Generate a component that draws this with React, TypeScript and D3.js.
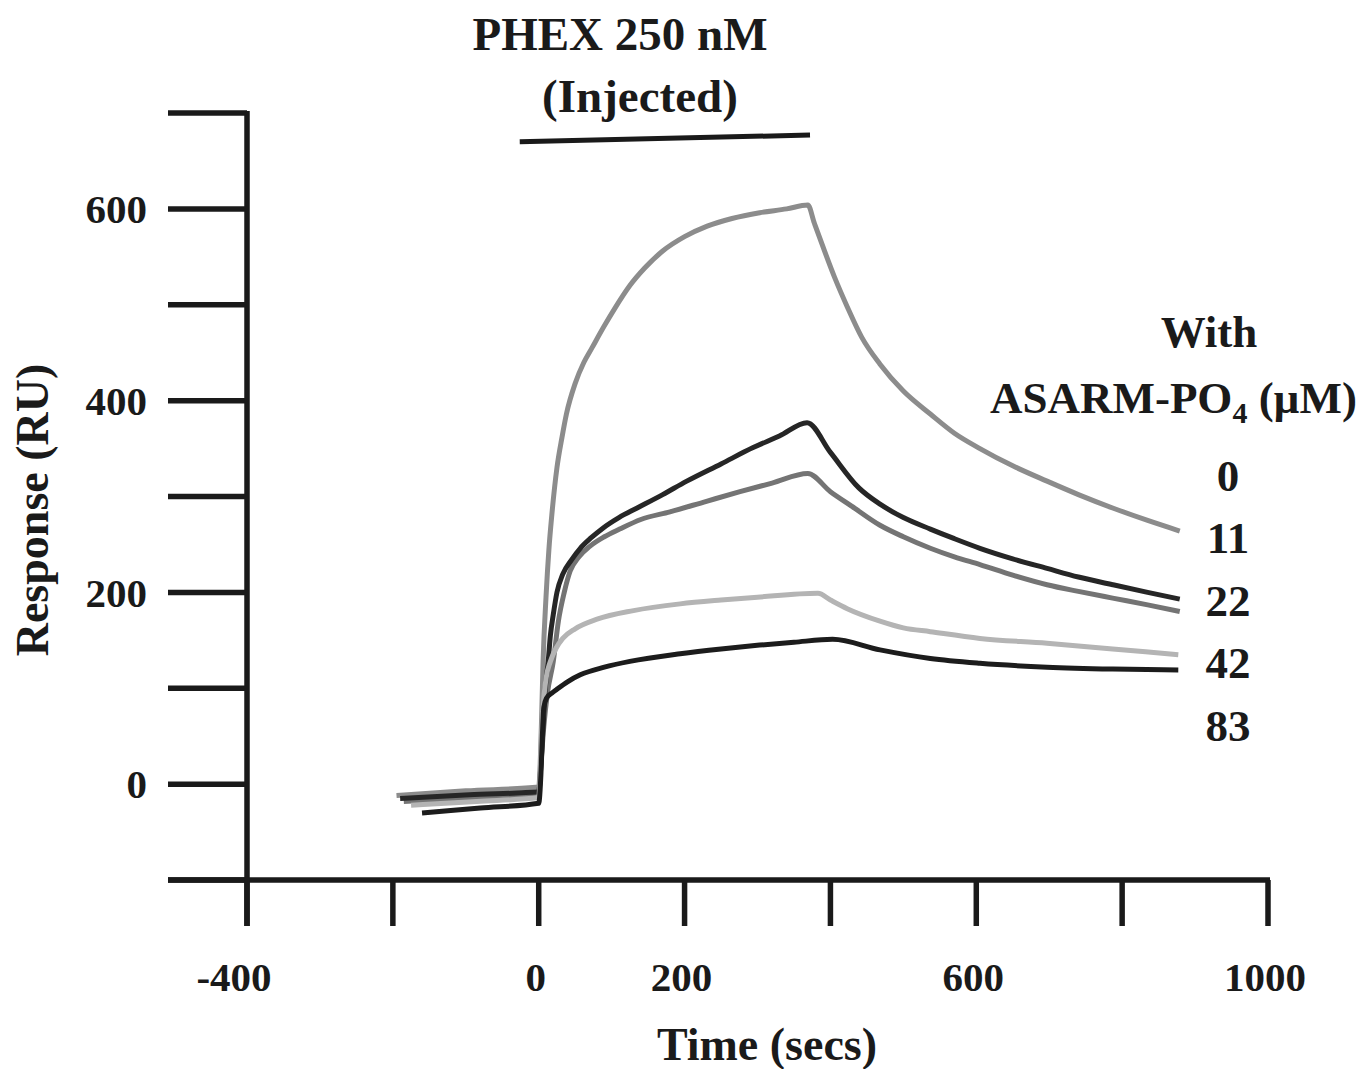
import * as d3 from "d3";

const WIDTH = 1361;
const HEIGHT = 1069;

// sensorgram traces: time (s) and response (RU)
const conc0T = [-195, -100, 0, 2, 4, 6, 10, 14, 18, 25, 32, 38, 50, 62, 73, 90, 105, 125, 145, 170, 200, 231, 265, 303, 340, 369,
  378, 390, 406, 423, 443, 468, 500, 537, 570, 605, 650, 697, 740, 787, 835, 879];
const conc0V = [-12, -7, -3, 20, 70, 128, 195, 245, 281, 330, 362, 386, 418, 440, 455, 478, 497, 520, 538, 556, 571, 582, 590, 596, 600, 604,
  585, 560, 528, 498, 466, 438, 410, 386, 366, 350, 332, 316, 302, 288, 275, 264];

const conc11T = [-190, -95, 0, 3, 6, 9, 13, 16, 20, 25, 33, 45, 57, 72, 88, 110, 135, 170, 203, 250, 294, 330, 368,
  400, 439, 468, 500, 537, 570, 605, 650, 697, 740, 787, 835, 879];
const conc11V = [-15, -11, -8, 20, 60, 100, 128, 155, 177, 200, 219, 234, 246, 257, 267, 278, 288, 302, 316, 334, 351, 363, 377,
  346, 309, 292, 278, 266, 256, 246, 235, 225, 216, 208, 200, 193];

const conc22T = [-185, -90, 0, 3, 7, 12, 20, 27, 35, 43, 55, 70, 90, 111, 140, 180, 230, 276, 320, 369,
  400, 429, 468, 500, 537, 570, 605, 650, 697, 740, 787, 835, 879];
const conc22V = [-18, -14, -10, 20, 60, 95, 128, 170, 200, 222, 237, 248, 258, 266, 276, 284, 295, 305, 314, 324,
  305, 290, 270, 258, 246, 237, 229, 218, 208, 201, 194, 187, 180];

const conc42T = [-175, -85, 0, 3, 6, 10, 16, 24, 33, 50, 80, 130, 194, 250, 300, 383,
  400, 423, 468, 500, 537, 605, 697, 787, 877];
const conc42V = [-22, -18, -14, 30, 80, 110, 128, 142, 152, 162, 172, 181, 188, 192, 195, 199,
  192, 183, 170, 163, 159, 152, 147, 141, 135];

const conc83T = [-160, -80, 0, 3, 5, 7, 11, 18, 25, 40, 57, 90, 125, 194, 250, 303, 350, 403,
  468, 537, 605, 697, 787, 877];
const conc83V = [-30, -25, -20, 10, 50, 80, 90, 95, 99, 107, 114, 122, 128, 136, 141, 145, 148, 151,
  140, 131, 126, 122, 120, 119];

const seriesNames = ["0", "11", "22", "42", "83"];
const seriesColors = ["#8c8c8c", "#262626", "#747474", "#b4b4b4", "#1c1c1c"];
const seriesT = [conc0T, conc11T, conc22T, conc42T, conc83T];
const seriesV = [conc0V, conc11V, conc22V, conc42V, conc83V];
const drawOrder = [0, 2, 1, 3, 4];

const xTicks = [-400, -200, 0, 200, 400, 600, 800, 1000];
const xTickLabels = ["-400", "", "0", "200", "", "600", "", "1000"];
const yTicks = [-100, 0, 100, 200, 300, 400, 500, 600, 700];
const yTickLabels = ["", "0", "", "200", "", "400", "", "600", ""];

// injection bar: start / end time and level
const injectT = [-26, 372];
const injectV = [670, 677];

const FONT = "'Liberation Serif', 'Times New Roman', serif";

export default function App() {
  const x = d3.scaleLinear().domain([-400, 1000]).range([247, 1268]);
  const y = d3.scaleLinear().domain([-100, 700]).range([880, 113]);

  const line = d3
    .line<[number, number]>()
    .x((d) => x(d[0]))
    .y((d) => y(d[1]))
    .curve(d3.curveMonotoneX);

  const axisColor = "#1a1a1a";
  const yTickLeft = 168;
  const xTickLen = 46;

  return (
    <svg
      width={WIDTH}
      height={HEIGHT}
      style={{ position: "absolute", left: 0, top: 0, background: "#fff" }}
      fontFamily={FONT}
      fontWeight="bold"
    >
      {/* curves */}
      {drawOrder.map((i) => {
        const pts = seriesT[i].map((t, k) => [t, seriesV[i][k]] as [number, number]);
        return (
          <path
            key={seriesNames[i]}
            d={line(pts) ?? ""}
            fill="none"
            stroke={seriesColors[i]}
            strokeWidth={5}
            strokeLinejoin="round"
          />
        );
      })}

      {/* y axis */}
      <line x1={x(-400)} x2={x(-400)} y1={y(700) - 2} y2={y(-100) + xTickLen} stroke={axisColor} strokeWidth={5.5} />
      {yTicks.map((t, i) => (
        <g key={"y" + t}>
          <line x1={yTickLeft} x2={x(-400)} y1={y(t)} y2={y(t)} stroke={axisColor} strokeWidth={5.5} />
          {yTickLabels[i] && (
            <text x={147} y={y(t)} dy="0.35em" textAnchor="end" fontSize={41} fill="#1a1a1a">
              {yTickLabels[i]}
            </text>
          )}
        </g>
      ))}

      {/* x axis */}
      <line x1={yTickLeft} x2={x(1000) + 2} y1={y(-100)} y2={y(-100)} stroke={axisColor} strokeWidth={5.5} />
      {xTicks.map((t, i) => (
        <g key={"x" + t}>
          <line x1={x(t)} x2={x(t)} y1={y(-100)} y2={y(-100) + xTickLen} stroke={axisColor} strokeWidth={5.5} />
          {xTickLabels[i] && (
            <text
              x={x(t) - (t < 0 ? 13 : 3)}
              y={977}
              dy="0.35em"
              textAnchor="middle"
              fontSize={41}
              fill="#1a1a1a"
            >
              {xTickLabels[i]}
            </text>
          )}
        </g>
      ))}

      {/* axis titles */}
      <text x={767} y={1044} dy="0.35em" textAnchor="middle" fontSize={46} fill="#1a1a1a">
        Time (secs)
      </text>
      <text
        transform="translate(32,510) rotate(-90)"
        dy="0.35em"
        textAnchor="middle"
        fontSize={46}
        fill="#1a1a1a"
      >
        Response (RU)
      </text>

      {/* injection annotation */}
      <text x={620} y={50} textAnchor="middle" fontSize={47} fill="#1a1a1a">
        PHEX 250 nM
      </text>
      <text x={640} y={112} textAnchor="middle" fontSize={47} fill="#1a1a1a">
        (Injected)
      </text>
      <line
        x1={x(injectT[0])}
        x2={x(injectT[1])}
        y1={y(injectV[0])}
        y2={y(injectV[1])}
        stroke={axisColor}
        strokeWidth={5}
      />

      {/* legend */}
      <text x={1209} y={347} textAnchor="middle" fontSize={45} fill="#1a1a1a">
        With
      </text>
      <text x={1357} y={413} textAnchor="end" fontSize={45} fill="#1a1a1a">
        ASARM-PO
        <tspan fontSize={30} dy={10}>4</tspan>
        <tspan dy={-10}> (µM)</tspan>
      </text>
      {seriesNames.map((n, i) => (
        <text key={"l" + n} x={1228} y={475 + i * 62.5} dy="0.35em" textAnchor="middle" fontSize={45} fill="#1a1a1a">
          {n}
        </text>
      ))}
    </svg>
  );
}
